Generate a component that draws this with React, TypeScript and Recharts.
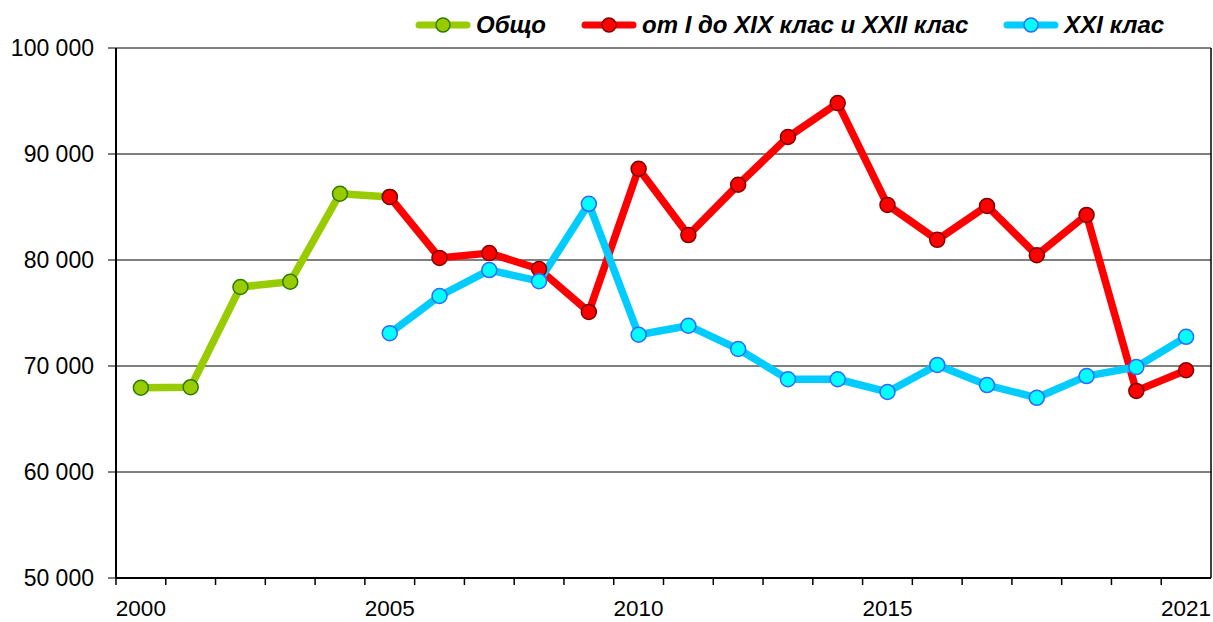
import React from 'react';
import { LineChart, Line, XAxis, YAxis, CartesianGrid } from 'recharts';

// categories
const years = [
  '2000', '2001', '2002', '2003', '2004', '2005', '2006', '2007', '2008', '2009', '2010',
  '2011', '2012', '2013', '2014', '2015', '2016', '2017', '2018', '2019', '2020', '2021',
];
const shownYears = ['2000', '2005', '2010', '2015', '2021'];

// series values
const total = [67950, 68000, 77450, 77950, 86250, 85950, null, null, null, null, null,
  null, null, null, null, null, null, null, null, null, null, null];
const classesI_XIX = [null, null, null, null, null, 85950, 80200, 80650, 79150, 75100, 88600,
  82350, 87100, 91600, 94800, 85200, 81900, 85100, 80450, 84250, 67650, 69600];
const classXXI = [null, null, null, null, null, 73100, 76600, 79050, 78000, 85300, 72950,
  73800, 71600, 68750, 68750, 67550, 70100, 68200, 67000, 69050, 69900, 72750];

const yTicks = [50000, 60000, 70000, 80000, 90000, 100000];

const data = years.map((y, i) => ({
  year: y,
  total: total[i],
  classes: classesI_XIX[i],
  xxi: classXXI[i],
}));

const series = [
  { key: 'total', name: 'Общо', line: '#99cc00', fill: '#99cc00', edge: '#2f7a00' },
  { key: 'classes', name: 'от I до XIX клас и XXII клас', line: '#ff0000', fill: '#ff0000', edge: '#800000' },
  { key: 'xxi', name: 'XXI клас', line: '#00ccff', fill: '#00ffff', edge: '#3366ff' },
];

const font = '"Liberation Sans", Arial, sans-serif';
const fmt = (v: number) => String(v).replace(/\B(?=(\d{3})+(?!\d))/g, ' ');

const HALF_BAND = 1095 / 22 / 2;

const XTick = (props: any) => {
  const { x, y, payload } = props;
  const label = shownYears.includes(payload.value);
  return (
    <g>
      <line x1={x - HALF_BAND} y1={y} x2={x - HALF_BAND} y2={y + 7} stroke="#000" strokeWidth={1.5} />
      {label && (
        <text x={x} y={y + 38} textAnchor="middle" fontSize={22.5} fontFamily={font} fill="#000">
          {payload.value}
        </text>
      )}
    </g>
  );
};

const LegendRow = () => (
  <div
    style={{
      position: 'absolute', left: 415, top: 10, display: 'flex', alignItems: 'center', gap: 35,
      fontFamily: font, fontSize: 24, fontWeight: 'bold', fontStyle: 'italic', color: '#000',
    }}
  >
    {series.map((s) => (
      <div key={s.key} style={{ display: 'flex', alignItems: 'center', gap: 5 }}>
        <svg width={56} height={20}>
          <line x1={4} y1={10} x2={52} y2={10} stroke={s.line} strokeWidth={7} strokeLinecap="round" />
          <circle cx={28} cy={10} r={7} fill={s.fill} stroke={s.edge} strokeWidth={1.5} />
        </svg>
        <span style={{ lineHeight: '30px' }}>{s.name}</span>
      </div>
    ))}
  </div>
);

export default function App() {
  return (
    <div style={{ position: 'absolute', left: 0, top: 0, width: 1213, height: 622, background: '#fff' }}>
      <LineChart width={1213} height={622} data={data} margin={{ top: 48, right: 1, bottom: 0, left: 0 }}>
        <CartesianGrid yAxisId="left" vertical={false} stroke="#000" strokeWidth={1} />
        <XAxis
          dataKey="year"
          scale="band"
          interval={0}
          height={44}
          tickSize={0}
          tickMargin={0}
          tick={<XTick />}
          axisLine={{ stroke: '#000', strokeWidth: 2 }}
          tickLine={false}
        />
        <YAxis
          yAxisId="left"
          width={116}
          domain={[50000, 100000]}
          ticks={yTicks}
          tickFormatter={fmt}
          tickSize={8}
          tickMargin={14}
          axisLine={{ stroke: '#000', strokeWidth: 2 }}
          tickLine={{ stroke: '#000' }}
          tick={{ fill: '#000', fontSize: 23, fontFamily: font }}
        />
        <YAxis
          yAxisId="right"
          orientation="right"
          width={1}
          domain={[50000, 100000]}
          tick={false}
          tickLine={false}
          axisLine={{ stroke: '#000', strokeWidth: 1.5 }}
        />
        {series.map((s) => (
          <Line
            key={s.key}
            yAxisId="left"
            dataKey={s.key}
            name={s.name}
            stroke={s.line}
            strokeWidth={7.5}
            strokeLinejoin="round"
            dot={{ r: 7.5, fill: s.fill, stroke: s.edge, strokeWidth: 1.5 }}
            activeDot={false}
            connectNulls={false}
            isAnimationActive={false}
          />
        ))}
      </LineChart>
      <LegendRow />
    </div>
  );
}
